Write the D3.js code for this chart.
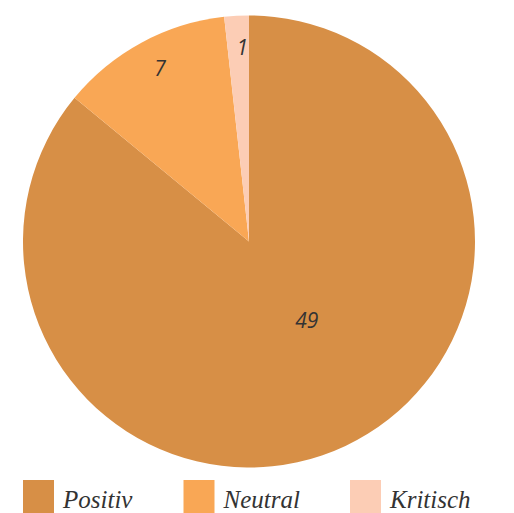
<!DOCTYPE html>
<html>
<head>
<meta charset="utf-8">
<script src="https://cdn.jsdelivr.net/npm/d3@7"></script>
<style>
  html, body { margin: 0; padding: 0; background: #fff; }
  .slice-label { font: italic 21px "Open Sans", sans-serif; fill: #333; }
  .legend-label { font: italic 25px "Liberation Serif", serif; fill: #333; }
</style>
</head>
<body>
<div id="chart"></div>
<script>
  // data
  const categories = ["Positiv", "Neutral", "Kritisch"];
  const values = [49, 7, 1];
  const colors = ["#d78f46", "#f9a755", "#fccdb5"];

  const width = 514, height = 513;
  const cx = 249, cy = 241.5, r = 226;

  const svg = d3.select("#chart").append("svg")
    .attr("width", width).attr("height", height);

  const pie = d3.pie().sort(null).value(d => d)(values);
  const arc = d3.arc().innerRadius(0).outerRadius(r);

  const g = svg.append("g").attr("transform", `translate(${cx},${cy})`);

  g.selectAll("path")
    .data(pie)
    .join("path")
      .attr("d", arc)
      .attr("fill", (d, i) => colors[i]);

  // big slice label sits closer to the centre, small ones near the rim
  g.selectAll("text")
    .data(pie)
    .join("text")
      .attr("class", "slice-label")
      .attr("text-anchor", "middle")
      .attr("dy", "0.35em")
      .attr("transform", d => {
        const big = (d.endAngle - d.startAngle) > Math.PI;
        const rr = big ? 98 : 194;
        const a = big ? (d.startAngle + d.endAngle) / 2 - 0.19 : (d.startAngle + d.endAngle) / 2 + 0.02;
        return `translate(${Math.sin(a) * rr},${-Math.cos(a) * rr})`;
      })
      .text(d => d.data);

  // legend
  const legendX = d3.scalePoint().domain(categories).range([23, 350]);
  const lg = svg.append("g").selectAll("g")
    .data(categories)
    .join("g")
      .attr("transform", d => `translate(${legendX(d) + [0, -3, 0][categories.indexOf(d)]},480)`);
  lg.append("rect")
    .attr("width", 31).attr("height", 33)
    .attr("fill", (d, i) => colors[i]);
  lg.append("text")
    .attr("class", "legend-label")
    .attr("x", 40).attr("y", 28)
    .text(d => d);
</script>
</body>
</html>
